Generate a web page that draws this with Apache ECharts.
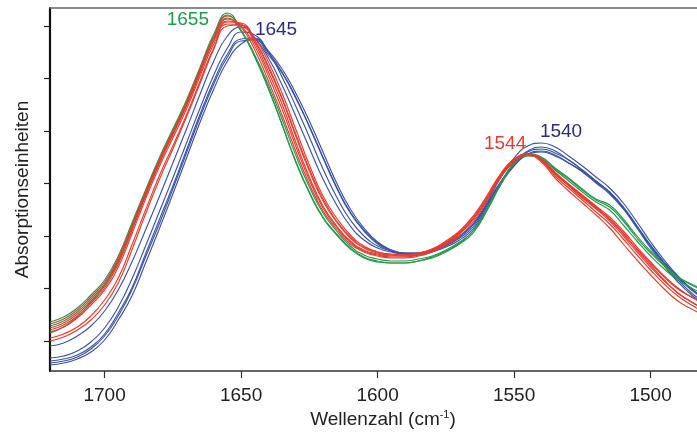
<!DOCTYPE html>
<html><head><meta charset="utf-8">
<script src="https://cdn.jsdelivr.net/npm/echarts@6/dist/echarts.min.js"></script>
<style>html,body{margin:0;padding:0;background:#fff}#c{width:697px;height:437px}</style>
</head><body><div id="c"></div>
<script>
// Wavenumber samples (cm^-1)
const wavenumbers = [1720,1715,1710,1705,1700,1695,1690,1685,1680,1675,1670,1665,1660,1655,1650,1645,1640,1635,1630,1625,1620,1615,1610,1605,1600,1595,1590,1585,1580,1575,1570,1565,1560,1555,1550,1545,1540,1535,1530,1525,1520,1515,1510,1505,1500,1495,1490,1485,1480];

// Absorbance (arbitrary units)
const green1 = [78,83,92,105,120,144,177,210,242,271,300,333,366,387,370,344,312,276,239,208,183,166,152,143,139,137,137,139,142,148,156,167,189,215,237,246,243,232,222,211,201,195,181,164,149,135,123,115,108];
const green2 = [67,73,83,98,115,139,172,206,239,268,297,330,363,385,369,343,311,275,238,207,182,165,151,142,138,137,137,139,143,149,157,169,191,216,237,245,242,231,221,210,200,193,179,162,147,134,123,116,110];
const green3 = [74,79,88,101,116,140,174,208,240,269,298,331,363,382,369,345,315,281,245,213,187,169,154,145,141,139,139,141,144,150,158,169,190,215,236,244,241,230,219,208,198,190,175,159,144,131,120,112,105];

const red1 = [76,81,90,103,118,142,175,208,240,269,298,331,363,384,373,350,319,285,249,216,189,171,156,148,144,142,142,144,148,155,164,178,199,222,238,245,240,227,215,203,192,181,167,151,137,123,111,103,96];
const red2 = [72,77,86,99,114,138,171,205,237,266,295,328,360,381,374,354,324,291,254,220,192,173,158,149,145,143,143,145,149,156,166,180,201,224,240,246,240,226,214,202,191,179,164,148,133,119,107,98,91];
const red3 = [70,75,84,97,112,136,169,204,236,265,294,327,359,379,376,357,328,296,258,223,194,174,159,150,146,144,144,146,150,157,167,181,201,223,239,245,240,226,215,204,193,181,166,150,135,120,107,98,90];
const red4 = [68,73,82,95,110,133,166,201,233,262,291,324,356,376,375,359,332,301,264,229,199,178,162,152,147,145,145,147,151,159,169,184,204,226,241,246,239,224,212,200,188,176,161,145,130,116,104,95,87];
const red5 = [62,66,73,84,100,122,155,190,224,254,285,319,352,374,375,362,338,307,271,235,204,182,165,154,148,146,145,147,151,158,168,183,203,225,240,245,238,222,209,197,185,172,156,140,125,111,99,91,84];
const red6 = [59,63,70,80,95,117,150,186,220,251,283,317,351,378,377,360,334,302,266,231,201,179,163,153,148,145,144,146,150,157,167,181,201,224,240,246,241,228,216,205,194,183,169,153,138,124,112,103,95];

const blue1 = [54,57,64,74,89,110,138,170,203,237,271,306,339,364,373,362,342,315,284,252,221,195,174,160,152,148,146,147,150,156,164,176,196,218,235,246,249,245,237,229,218,207,192,173,154,137,122,110,101];
const blue2 = [42,44,49,58,72,93,121,154,188,222,257,292,325,352,368,365,348,323,294,263,231,203,180,164,154,149,147,147,150,155,163,175,195,217,236,248,251,247,240,230,219,208,193,174,155,138,123,111,102];
const blue3 = [37,39,43,51,64,84,110,143,176,211,247,283,316,343,359,360,345,327,302,273,242,212,187,169,156,149,146,146,149,154,162,173,194,217,237,249,253,249,240,230,219,208,193,174,154,136,120,107,97];
const blue4 = [35,37,41,48,60,80,104,137,171,206,242,278,311,339,356,361,349,331,307,279,248,217,191,172,158,150,146,145,148,153,160,171,192,215,234,245,248,244,237,228,217,206,191,172,152,134,118,105,95];
const blue5 = [39,41,45,53,66,87,112,146,180,214,250,286,319,346,361,362,347,328,303,274,243,213,188,170,157,150,147,147,150,156,164,176,197,222,242,254,257,253,244,234,223,212,197,178,158,140,124,111,100];

const xTickValues = [1700,1650,1600,1550,1500];
const yTickValues = [59,111.5,164,216.5,269,321.5,374];
const peakLabels = ['1655','1645','1544','1540'];

const FONT = '"Liberation Sans", Arial, Helvetica, sans-serif';
const GREEN = '#24994b', RED = '#e63b2f', BLUE = '#3b54a3', NAVY = '#2e2b7d', LGREEN = '#1f9a4c';

function mk(name, vals, color, extra) {
  return Object.assign({
    name, type: 'line',
    data: wavenumbers.map((w, i) => [w, vals[i]]),
    showSymbol: false, symbol: 'none', smooth: 0.5,
    lineStyle: { color, width: 1.15 }, itemStyle: { color },
    silent: true, animation: false, clip: true
  }, extra || {});
}
function mp(text, coord, color) {
  return {
    coord, symbol: 'circle', symbolSize: 0, itemStyle: { color: 'rgba(0,0,0,0)' },
    label: { show: true, position: 'inside', formatter: text, color, fontSize: 19, fontFamily: FONT }
  };
}

const chart = echarts.init(document.getElementById('c'), null, { renderer: 'canvas' });
chart.setOption({
  animation: false,
  backgroundColor: '#fff',
  grid: { left: 50, right: 0, top: 8, bottom: 66, containLabel: false },
  xAxis: [{
    type: 'value', inverse: true, min: 1483, max: 1720, position: 'bottom',
    name: 'Wellenzahl (cm{sup|-1})', nameLocation: 'middle', nameGap: 37,
    nameTextStyle: { fontSize: 19, fontFamily: FONT, color: '#222', padding: [0, 0, 0, 19],
      rich: { sup: { fontSize: 11, fontFamily: FONT, color: '#222', verticalAlign: 'top' } } },
    axisLine: { show: true, onZero: false, lineStyle: { color: '#333', width: 1.5 } },
    axisTick: { show: true, length: 7, customValues: xTickValues, lineStyle: { color: '#333', width: 1.2 } },
    axisLabel: { show: true, customValues: xTickValues, margin: 15, fontSize: 19, fontFamily: FONT, color: '#222',
      formatter: v => String(v) },
    splitLine: { show: false }
  }, {
    type: 'value', inverse: true, min: 1483, max: 1720, position: 'top',
    axisLine: { show: true, onZero: false, lineStyle: { color: '#666', width: 1.5 } },
    axisTick: { show: false }, axisLabel: { show: false }, splitLine: { show: false }
  }],
  yAxis: {
    type: 'value', min: 29, max: 392, position: 'left',
    name: 'Absorptionseinheiten', nameLocation: 'middle', nameGap: 18, nameRotate: 90,
    nameTextStyle: { fontSize: 19, fontFamily: FONT, color: '#222' },
    axisLine: { show: true, onZero: false, lineStyle: { color: '#111', width: 2.2 } },
    axisTick: { show: true, length: 6, customValues: yTickValues, lineStyle: { color: '#222', width: 1.2 } },
    axisLabel: { show: false },
    splitLine: { show: false }
  },
  series: [
    mk('blue1', blue1, BLUE), mk('blue2', blue2, BLUE),
    mk('blue3', blue3, BLUE, { markPoint: { animation: false, data: [mp(peakLabels[1], [1637.2, 370.5], NAVY), mp(peakLabels[3], [1532.8, 268], NAVY)] } }),
    mk('blue4', blue4, BLUE), mk('blue5', blue5, BLUE),
    mk('green1', green1, GREEN, { markPoint: { animation: false, data: [mp(peakLabels[0], [1669.5, 380], LGREEN)] } }),
    mk('green2', green2, GREEN), mk('green3', green3, GREEN),
    mk('red1', red1, RED), mk('red2', red2, RED),
    mk('red3', red3, RED, { markPoint: { animation: false, data: [mp(peakLabels[2], [1553.3, 256], RED)] } }),
    mk('red4', red4, RED), mk('red5', red5, RED), mk('red6', red6, RED)
  ]
});
</script></body></html>
